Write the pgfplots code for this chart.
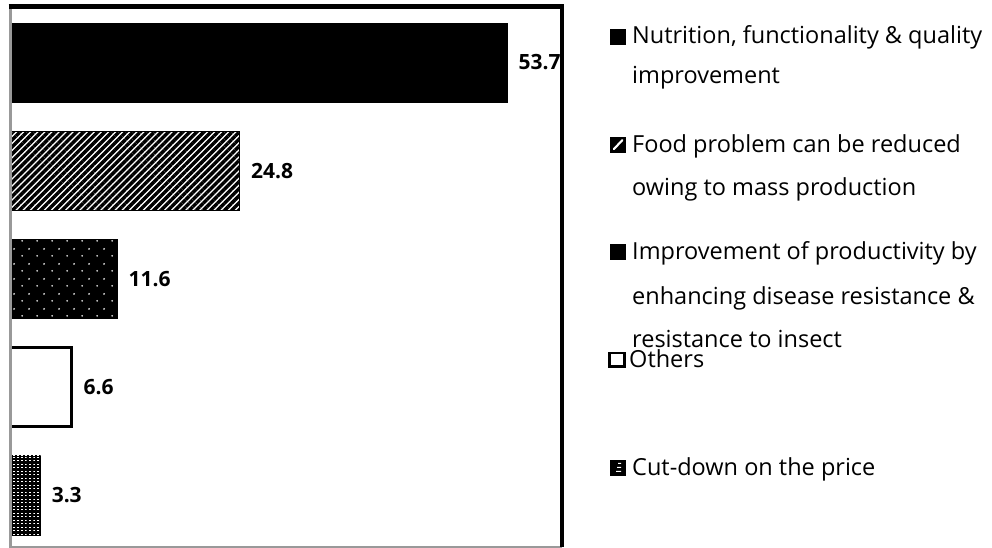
\documentclass[border=0pt]{standalone}
\usepackage{fontspec}
\setmainfont{Open Sans}
\usepackage{pgfplots}
\pgfplotsset{compat=1.18}
\usetikzlibrary{patterns,patterns.meta}
\definecolor{framegray}{gray}{0.6}
\begin{document}
\begin{tikzpicture}[x=1bp,y=1bp]
\useasboundingbox (-10,-1) rectangle (982,547);
\begin{axis}[
  at={(0,0)}, anchor=south west,
  scale only axis, width=552bp, height=540.5bp,
  xmin=0, xmax=59.6, ymin=-0.517, ymax=4.476, y dir=reverse,
  xtick=\empty, ytick=\empty,
  axis line style={draw=none},
  xbar, bar width=0.73, clip=false,
  point meta=x,
  /pgf/number format/assume math mode=true,
  /pgf/number format/fixed, /pgf/number format/precision=1,
  nodes near coords,
  every node near coord/.append style={anchor=west, xshift=11bp, inner sep=0pt, text=black,
     font=\fontsize{21bp}{24bp}\selectfont\bfseries},
]
\addplot[bar shift=0pt, draw=black, fill=black] coordinates {(53.7,0)};
\addplot[bar shift=0pt, draw=black, line width=0.8bp,
   pattern={Lines[angle=45,distance=5bp,line width=3.4bp]}, pattern color=black] coordinates {(24.8,1)};
\addplot[bar shift=0pt, draw=black, fill=black,
   postaction={pattern={Dots[distance=15bp,radius=1bp]}, pattern color=white},
   postaction={pattern={Dots[distance=15bp,radius=1bp,xshift=7.5bp,yshift=7.5bp]}, pattern color=white}] coordinates {(11.6,2)};
\addplot[bar shift=0pt, draw=black, line width=3bp, fill=white] coordinates {(6.6,3)};
\addplot[bar shift=0pt, draw=black, fill=black,
   postaction={pattern={Lines[angle=0,distance=3.5bp,line width=0.6bp]}, pattern color=white},
   postaction={pattern={Lines[angle=90,distance=4bp,line width=1.2bp]}, pattern color=black}] coordinates {(3.3,4)};
\end{axis}
% mask overflow right of the frame
\fill[white] (554,0) rectangle (585,540);
% frame
\draw[framegray, line width=3bp] (0,-1) -- (0,542);
\draw[framegray, line width=1.5bp] (0,0) -- (552,0);
\draw[black, line width=4.5bp] (-1.5,540.5) -- (554,540.5);
\draw[black, line width=4bp] (552,542.5) -- (552,0);
% legend
\begin{scope}[every node/.style={inner sep=0pt, anchor=base west, font=\fontsize{23.5bp}{26bp}\selectfont}]
\fill[black] (600,502) rectangle (616,518);
\node at (622,503) {Nutrition, functionality \& quality};
\node at (622,463) {improvement};
\fill[black] (600,394) rectangle (616,410);
\fill[white] (603,397) -- (604.5,397) -- (613,406) -- (613,407.5) -- (611.5,407.5) -- (603,398.5) -- cycle;
\node at (622,394) {Food problem can be reduced};
\node at (622,351) {owing to mass production};
\fill[black] (600,287) rectangle (616,303);
\node at (622,287) {Improvement of productivity by};
\node at (622,242) {enhancing disease resistance \&};
\node at (622,199) {resistance to insect};
\draw[black, line width=2.5bp] (599.5,180.5) rectangle (614.5,194);
\node at (619,179) {Others};
\fill[black] (600,71) rectangle (616,87);
\fill[white] (606,75) rectangle (611,76) (607,79) rectangle (611,80) (608,83) rectangle (611,84);
\node at (622,71) {Cut-down on the price};
\end{scope}
\end{tikzpicture}
\end{document}
